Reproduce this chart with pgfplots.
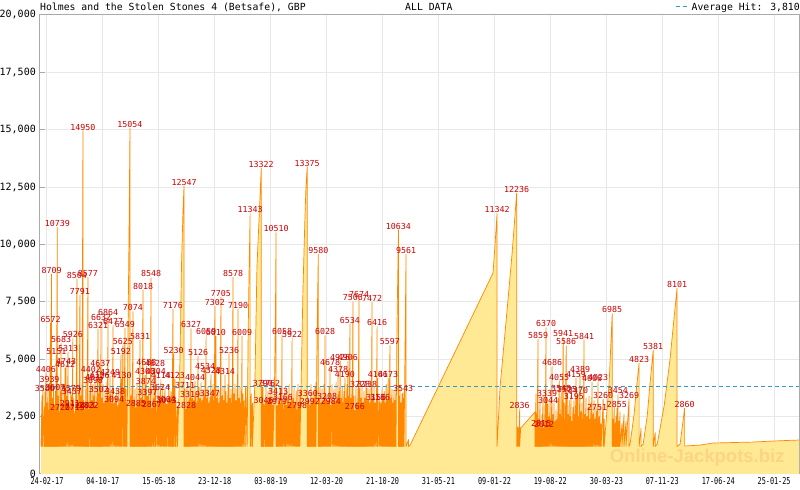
\documentclass[border=0pt]{standalone}
\usepackage{pgfplots}
\pgfplotsset{compat=1.18}
\usepackage{pgfplotstable}
\usepackage{fontspec}
\setmainfont{DejaVu Sans Mono}
\newfontfamily\monofont{DejaVu Sans Mono}
\newfontfamily\xmono[FakeStretch=0.72]{DejaVu Sans Mono}
\newfontfamily\wmfont{Liberation Sans}
\definecolor{jpyellow}{RGB}{255,233,148}
\definecolor{jporange}{RGB}{255,136,0}
\definecolor{labred}{RGB}{204,0,0}
\definecolor{gridgray}{RGB}{232,232,232}
\definecolor{axisgray}{RGB}{170,170,170}
\definecolor{avgblue}{RGB}{51,153,204}
\definecolor{wmark}{RGB}{253,213,128}

% jackpot level over time: x = days since 24-02-17, y = GBP
\pgfplotstableread[row sep=\\]{
d v\\
-24 1200\\
-20 3400\\ -20 1200\\ -16 3800\\ -16 1200\\ -10 2900\\ -10 1200\\ -8 3580\\ -8 1200\\
-4 4406\\ -4 1200\\ 0 3100\\ 0 1200\\ 4 3700\\ 4 1200\\ 8 2800\\ 8 1200\\
10 3939\\ 10 1200\\ 14 6572\\ 14 1200\\ 18 8709\\ 18 1200\\ 22 3300\\ 22 1200\\
26 3800\\ 26 1200\\ 30 3000\\ 30 1200\\ 33 3607\\ 33 1200\\ 37 5151\\ 37 1200\\
41 10739\\ 41 1200\\ 44 3400\\ 44 1200\\ 48 3900\\ 48 1200\\ 52 2720\\ 52 1200\\
56 5683\\ 56 1200\\ 60 3600\\ 60 1200\\ 64 3000\\ 64 1200\\ 68 3800\\ 68 1200\\
72 4612\\ 72 1200\\ 76 4743\\ 76 1200\\ 80 3400\\ 80 1200\\ 84 5313\\ 84 1200\\
88 3100\\ 88 1200\\ 91 2911\\ 91 1200\\ 95 3579\\ 95 1200\\ 99 3437\\ 99 1200\\
103 5926\\ 103 1200\\ 107 3300\\ 107 1200\\ 111 2715\\ 111 1200\\ 115 3800\\ 115 1200\\
119 8504\\ 119 1200\\ 123 3100\\ 123 1200\\ 127 3700\\ 127 1200\\ 131 7791\\ 131 1200\\
135 3400\\ 135 1200\\ 139 3900\\ 139 1200\\ 143 14950\\ 143 1200\\ 147 3200\\ 147 1200\\
151 2803\\ 151 1200\\ 155 4000\\ 155 1200\\ 159 3100\\ 159 1200\\ 163 8577\\ 163 1200\\
166 2822\\ 166 1200\\ 171 3800\\ 171 1200\\ 175 4402\\ 175 1200\\ 179 3200\\ 179 1200\\
183 3898\\ 183 1200\\ 187 3400\\ 187 1200\\ 191 4037\\ 191 1200\\ 195 3000\\ 195 1200\\
199 3800\\ 199 1200\\ 203 6321\\ 203 1200\\ 206 3502\\ 206 1200\\ 209 4126\\ 209 1200\\
212 4637\\ 212 1200\\ 215 6632\\ 215 1200\\ 219 3300\\ 219 1200\\ 223 3900\\ 223 1200\\
227 3100\\ 227 1200\\ 231 3600\\ 231 1200\\ 235 3200\\ 235 1200\\ 239 4000\\ 239 1200\\
243 6864\\ 243 1200\\ 247 3400\\ 247 1200\\ 251 4249\\ 251 1200\\ 255 3500\\ 255 1200\\
259 3100\\ 259 1200\\ 263 6477\\ 263 1200\\ 267 3094\\ 267 1200\\ 271 3438\\ 271 1200\\
274 3300\\ 274 1200\\ 278 3800\\ 278 1200\\ 282 3000\\ 282 1200\\ 286 3600\\ 286 1200\\
290 3200\\ 290 1200\\ 294 5192\\ 294 1200\\ 297 4130\\ 297 1200\\ 302 5625\\ 302 1200\\
306 3400\\ 306 1200\\ 310 6349\\ 310 1200\\ 314 3700\\ 314 1200\\ 318 3100\\ 318 1200\\
322 6000\\ 326 10100\\ 330 15054\\ 330 1200\\
334 3400\\ 334 1200\\ 338 3800\\ 338 1200\\ 342 7074\\ 342 1200\\ 346 3200\\ 346 1200\\
350 3700\\ 350 1200\\ 354 2885\\ 354 1200\\ 358 3900\\ 358 1200\\ 362 3100\\ 362 1200\\
366 3600\\ 366 1200\\ 370 5831\\ 370 1200\\ 374 3300\\ 374 1200\\ 378 3800\\ 378 1200\\
382 8018\\ 382 1200\\ 386 3200\\ 386 1200\\ 390 4300\\ 390 1200\\ 393 3874\\ 393 1200\\
395 4688\\ 395 1200\\ 399 3397\\ 399 1200\\ 402 3400\\ 402 1200\\ 406 3800\\ 406 1200\\
410 3200\\ 410 1200\\ 414 8548\\ 414 1200\\ 417 2867\\ 417 1200\\ 422 3700\\ 422 1200\\
426 3300\\ 426 1200\\ 430 4628\\ 430 1200\\ 433 4304\\ 433 1200\\ 438 3200\\ 438 1200\\
442 3800\\ 442 1200\\ 446 3100\\ 446 1200\\ 450 3624\\ 450 1200\\ 453 4114\\ 453 1200\\
457 3400\\ 457 1200\\ 461 3900\\ 461 1200\\ 465 3200\\ 465 1200\\ 469 3700\\ 469 1200\\
473 3064\\ 473 1200\\ 476 3043\\ 476 1200\\ 481 3300\\ 481 1200\\ 485 3900\\ 485 1200\\
489 3100\\ 489 1200\\ 493 3600\\ 493 1200\\ 497 3400\\ 497 1200\\ 501 7176\\ 501 1200\\
504 5230\\ 504 1200\\ 509 4123\\ 509 1200\\ 513 3200\\ 513 1200\\ 519 2900\\ 519 1200\\
529 5000\\ 535 9100\\ 541 11500\\ 545 12547\\ 545 1200\\
549 3711\\ 549 1200\\ 553 2828\\ 553 1200\\ 557 3800\\ 557 1200\\ 561 3100\\ 561 1200\\
565 3700\\ 565 1200\\ 569 3319\\ 569 1200\\ 573 6327\\ 573 1200\\ 577 3300\\ 577 1200\\
581 3900\\ 581 1200\\ 585 3200\\ 585 1200\\ 589 4044\\ 589 1200\\ 593 3500\\ 593 1200\\
597 3100\\ 597 1200\\ 601 5126\\ 601 1200\\ 605 3800\\ 605 1200\\ 609 3300\\ 609 1200\\
613 4000\\ 613 1200\\ 617 3200\\ 617 1200\\ 621 3700\\ 621 1200\\ 625 3400\\ 625 1200\\
629 4534\\ 629 1200\\ 633 6059\\ 633 1200\\ 636 3300\\ 636 1200\\ 640 3800\\ 640 1200\\
644 3100\\ 644 1200\\ 648 3347\\ 648 1200\\ 652 4328\\ 652 1200\\ 656 3400\\ 656 1200\\
660 3900\\ 660 1200\\ 664 3200\\ 664 1200\\ 668 7302\\ 668 1200\\ 672 6010\\ 672 1200\\
676 3300\\ 676 1200\\ 680 3800\\ 680 1200\\ 684 3100\\ 684 1200\\ 688 3600\\ 688 1200\\
692 7705\\ 692 1200\\ 696 3400\\ 696 1200\\ 700 3800\\ 700 1200\\ 704 3200\\ 704 1200\\
708 4314\\ 708 1200\\ 712 3600\\ 712 1200\\ 716 3100\\ 716 1200\\ 720 3900\\ 720 1200\\
724 5236\\ 724 1200\\ 728 3300\\ 728 1200\\ 732 3700\\ 732 1200\\ 736 3100\\ 736 1200\\
740 8578\\ 740 1200\\ 744 3500\\ 744 1200\\ 748 3900\\ 748 1200\\ 752 3200\\ 752 1200\\
756 3700\\ 756 1200\\ 760 7190\\ 760 1200\\ 764 3300\\ 764 1200\\ 768 3800\\ 768 1200\\
772 3100\\ 772 1200\\ 776 6009\\ 776 1200\\ 780 3500\\ 780 1200\\ 784 3200\\ 784 1200\\
790 3800\\ 790 1200\\ 796 3800\\ 796 1200\\
800 6000\\ 804 9000\\ 808 11343\\ 808 1200\\
812 3500\\ 812 1200\\ 817 3100\\ 817 1200\\
827 4000\\ 835 9000\\ 843 11000\\ 847 12000\\ 852 13322\\ 852 1200\\
855 3800\\ 855 1200\\ 859 3790\\ 859 1200\\ 862 3046\\ 862 1200\\ 867 3200\\ 867 1200\\
871 3800\\ 871 1200\\ 875 3100\\ 875 1200\\ 879 3600\\ 879 1200\\ 883 3300\\ 883 1200\\
887 3762\\ 887 1200\\ 891 3200\\ 891 1200\\ 895 3800\\ 895 1200\\ 899 3000\\ 899 1200\\
905 4000\\ 909 7500\\ 911 10510\\ 911 1200\\
915 2979\\ 915 1200\\ 919 3413\\ 919 1200\\ 923 3200\\ 923 1200\\ 927 3800\\ 927 1200\\
931 3100\\ 931 1200\\ 935 6058\\ 935 1200\\ 938 3166\\ 938 1200\\ 943 3200\\ 943 1200\\
947 3800\\ 947 1200\\ 951 3000\\ 951 1200\\ 955 3600\\ 955 1200\\ 959 3300\\ 959 1200\\
963 3900\\ 963 1200\\ 967 3100\\ 967 1200\\ 971 3500\\ 971 1200\\ 975 5922\\ 975 1200\\
979 3300\\ 979 1200\\ 983 3800\\ 983 1200\\ 987 3100\\ 987 1200\\ 991 3600\\ 991 1200\\
995 2798\\ 995 1200\\ 998 3900\\ 998 1200\\ 1002 3100\\ 1002 1200\\ 1006 3600\\ 1006 1200\\
1018 8000\\ 1026 11200\\ 1030 12500\\ 1035 13375\\ 1035 1200\\
1038 3360\\ 1038 1200\\ 1042 3200\\ 1042 1200\\ 1046 2992\\ 1046 1200\\ 1050 3900\\ 1050 1200\\
1054 3100\\ 1054 1200\\ 1058 3600\\ 1058 1200\\ 1062 3300\\ 1062 1200\\ 1066 3800\\ 1066 1200\\
1070 4000\\ 1070 1200\\ 1074 6000\\ 1079 9580\\ 1079 1200\\
1082 3300\\ 1082 1200\\ 1086 3800\\ 1086 1200\\ 1090 3100\\ 1090 1200\\ 1094 3700\\ 1094 1200\\
1098 3200\\ 1098 1200\\ 1102 3900\\ 1102 1200\\ 1106 6028\\ 1106 1200\\ 1110 3400\\ 1110 1200\\
1114 3208\\ 1114 1200\\ 1118 3200\\ 1118 1200\\ 1122 3800\\ 1122 1200\\ 1126 4678\\ 1126 1200\\
1129 2984\\ 1129 1200\\ 1134 3900\\ 1134 1200\\ 1138 3200\\ 1138 1200\\ 1142 3700\\ 1142 1200\\
1146 3100\\ 1146 1200\\ 1150 4000\\ 1150 1200\\ 1154 3300\\ 1154 1200\\ 1158 4378\\ 1158 1200\\
1162 3600\\ 1162 1200\\ 1166 4926\\ 1166 1200\\ 1170 3300\\ 1170 1200\\ 1174 3800\\ 1174 1200\\
1177 3100\\ 1177 1200\\ 1181 3600\\ 1181 1200\\ 1185 4190\\ 1185 1200\\ 1189 3300\\ 1189 1200\\
1193 3900\\ 1193 1200\\ 1197 4906\\ 1197 1200\\ 1201 3400\\ 1201 1200\\ 1205 6534\\ 1205 1200\\
1209 3300\\ 1209 1200\\ 1213 3800\\ 1213 1200\\ 1217 7506\\ 1217 1200\\ 1221 3400\\ 1221 1200\\
1225 2766\\ 1225 1200\\ 1229 3800\\ 1229 1200\\ 1233 3100\\ 1233 1200\\ 1237 3700\\ 1237 1200\\
1241 7674\\ 1241 1200\\ 1245 3728\\ 1245 1200\\ 1249 3300\\ 1249 1200\\ 1253 3800\\ 1253 1200\\
1257 3100\\ 1257 1200\\ 1261 3600\\ 1261 1200\\ 1265 3300\\ 1265 1200\\ 1269 3900\\ 1269 1200\\
1273 3738\\ 1273 1200\\ 1277 3200\\ 1277 1200\\ 1281 3700\\ 1281 1200\\ 1285 3100\\ 1285 1200\\
1289 3800\\ 1289 1200\\ 1293 7472\\ 1293 1200\\ 1297 3300\\ 1297 1200\\ 1301 3800\\ 1301 1200\\
1305 3100\\ 1305 1200\\ 1309 3156\\ 1309 1200\\ 1313 6416\\ 1313 1200\\ 1316 4166\\ 1316 1200\\
1321 3200\\ 1321 1200\\ 1325 3186\\ 1325 1200\\ 1329 3100\\ 1329 1200\\ 1333 3800\\ 1333 1200\\
1337 3300\\ 1337 1200\\ 1341 3600\\ 1341 1200\\ 1345 3100\\ 1345 1200\\ 1349 3900\\ 1349 1200\\
1353 3200\\ 1353 1200\\ 1357 4173\\ 1357 1200\\ 1360 3500\\ 1360 1200\\ 1364 5597\\ 1364 1200\\
1368 3300\\ 1368 1200\\ 1372 3700\\ 1372 1200\\ 1376 3100\\ 1376 1200\\ 1380 3600\\ 1380 1200\\
1384 3200\\ 1384 1200\\ 1388 3800\\ 1388 1200\\ 1392 6500\\ 1398 10634\\ 1398 1200\\
1400 3400\\ 1400 1200\\ 1404 3800\\ 1404 1200\\ 1408 3100\\ 1408 1200\\ 1412 3500\\ 1412 1200\\
1416 3543\\ 1416 1200\\ 1420 3300\\ 1420 1200\\ 1424 5500\\ 1428 9561\\ 1428 1200\\
1438 1500\\ 1438 1200\\ 1444 1250\\
1774 8760\\ 1782 10000\\ 1790 11342\\ 1790 1200\\
1802 3800\\ 1830 7150\\ 1850 9630\\ 1868 12236\\ 1868 1200\\
1872 2050\\ 1872 1200\\ 1876 2000\\ 1876 1200\\ 1880 2836\\ 1880 1200\\
1884 2000\\ 1941 2700\\ 1941 1200\\
1945 3500\\ 1945 1200\\ 1949 2600\\ 1949 1200\\ 1953 5859\\ 1953 1200\\ 1957 2400\\ 1957 1200\\
1961 3200\\ 1961 1200\\ 1965 2015\\ 1965 1200\\ 1969 2600\\ 1969 1200\\ 1973 3400\\ 1973 1200\\
1977 2012\\ 1977 1200\\ 1981 3000\\ 1981 1200\\ 1985 6370\\ 1985 1200\\ 1989 3339\\ 1989 1200\\
1993 3044\\ 1993 1200\\ 1997 2500\\ 1997 1200\\ 2001 3200\\ 2001 1200\\ 2005 2400\\ 2005 1200\\
2009 4686\\ 2009 1200\\ 2013 2600\\ 2013 1200\\ 2017 3100\\ 2017 1200\\ 2021 2300\\ 2021 1200\\
2025 2800\\ 2025 1200\\ 2029 2400\\ 2029 1200\\ 2033 3300\\ 2033 1200\\ 2037 4055\\ 2037 1200\\
2041 2600\\ 2041 1200\\ 2045 3548\\ 2045 1200\\ 2049 2500\\ 2049 1200\\ 2053 5941\\ 2053 1200\\
2057 3100\\ 2057 1200\\ 2061 2400\\ 2061 1200\\ 2065 5586\\ 2065 1200\\ 2069 3525\\ 2069 1200\\
2073 2600\\ 2073 1200\\ 2077 3200\\ 2077 1200\\ 2081 2500\\ 2081 1200\\ 2084 3400\\ 2084 1200\\
2088 2300\\ 2088 1200\\ 2092 2900\\ 2092 1200\\ 2096 3195\\ 2096 1200\\ 2100 2600\\ 2100 1200\\
2104 4159\\ 2104 1200\\ 2108 3400\\ 2108 1200\\ 2112 3470\\ 2112 1200\\ 2116 2500\\ 2116 1200\\
2120 4389\\ 2120 1200\\ 2124 2700\\ 2124 1200\\ 2128 3100\\ 2128 1200\\ 2132 2400\\ 2132 1200\\
2136 5841\\ 2136 1200\\ 2140 2600\\ 2140 1200\\ 2144 3300\\ 2144 1200\\ 2148 2500\\ 2148 1200\\
2152 2900\\ 2152 1200\\ 2156 3400\\ 2156 1200\\ 2160 2400\\ 2160 1200\\ 2164 3100\\ 2164 1200\\
2168 4006\\ 2168 1200\\ 2172 2600\\ 2172 1200\\ 2176 3200\\ 2176 1200\\ 2180 2400\\ 2180 1200\\
2184 2900\\ 2184 1200\\ 2188 2751\\ 2188 1200\\ 2192 4023\\ 2192 1200\\ 2196 2500\\ 2196 1200\\
2200 3000\\ 2200 1200\\ 2204 2200\\ 2204 1200\\ 2212 3260\\ 2212 1200\\ 2216 2400\\ 2216 1200\\
2236 4000\\ 2244 6000\\ 2248 6985\\ 2248 1200\\
2252 2400\\ 2252 1200\\ 2256 2900\\ 2256 1200\\ 2260 2200\\ 2260 1200\\ 2263 2500\\ 2263 1200\\
2267 2855\\ 2267 1200\\ 2271 3454\\ 2271 1200\\ 2275 2300\\ 2275 1200\\ 2279 2700\\ 2279 1200\\
2287 2200\\ 2287 1200\\ 2295 2600\\ 2295 1200\\ 2303 2300\\ 2303 1200\\ 2315 3269\\ 2315 1200\\
2319 1300\\ 2335 2600\\ 2347 4000\\ 2355 4823\\ 2355 1200\\ 2363 2000\\ 2363 1200\\
2371 1300\\ 2387 2500\\ 2399 4000\\ 2411 5381\\ 2411 1200\\ 2419 1800\\ 2419 1200\\
2427 1300\\ 2455 3000\\ 2478 5000\\ 2494 6800\\ 2506 8101\\ 2506 1200\\
2518 1300\\ 2526 2000\\ 2536 2860\\ 2536 1220\\
2598 1260\\ 2649 1350\\ 2804 1390\\ 2896 1440\\ 2991 1480\\
}\jpdata

% labelled hits
\pgfplotstableread[row sep=\\]{
d v\\
-8 3580\\ -4 4406\\ 10 3939\\ 14 6572\\ 18 8709\\ 33 3607\\ 37 5151\\ 41 10739\\ 52 2720\\
56 5683\\ 72 4612\\ 76 4743\\ 84 5313\\ 91 2911\\ 95 3579\\ 99 3437\\ 103 5926\\ 111 2715\\
119 8504\\ 131 7791\\ 143 14950\\ 151 2803\\ 163 8577\\ 166 2822\\ 175 4402\\ 183 3898\\
191 4037\\ 203 6321\\ 206 3502\\ 209 4126\\ 212 4637\\ 215 6632\\ 243 6864\\ 251 4249\\
263 6477\\ 267 3094\\ 271 3438\\ 294 5192\\ 297 4130\\ 302 5625\\ 310 6349\\ 330 15054\\
342 7074\\ 354 2885\\ 370 5831\\ 382 8018\\ 390 4300\\ 393 3874\\ 395 4688\\ 399 3397\\
414 8548\\ 417 2867\\ 430 4628\\ 433 4304\\ 450 3624\\ 453 4114\\ 473 3064\\ 476 3043\\
501 7176\\ 504 5230\\ 509 4123\\ 545 12547\\ 549 3711\\ 553 2828\\ 569 3319\\ 573 6327\\
589 4044\\ 601 5126\\ 629 4534\\ 633 6059\\ 648 3347\\ 652 4328\\ 668 7302\\ 672 6010\\
692 7705\\ 708 4314\\ 724 5236\\ 740 8578\\ 760 7190\\ 776 6009\\ 808 11343\\ 852 13322\\
859 3790\\ 862 3046\\ 887 3762\\ 911 10510\\ 915 2979\\ 919 3413\\ 935 6058\\ 938 3166\\
975 5922\\ 995 2798\\ 1035 13375\\ 1038 3360\\ 1046 2992\\ 1079 9580\\ 1106 6028\\
1114 3208\\ 1126 4678\\ 1129 2984\\ 1158 4378\\ 1166 4926\\ 1185 4190\\ 1197 4906\\
1205 6534\\ 1217 7506\\ 1225 2766\\ 1241 7674\\ 1245 3728\\ 1273 3738\\ 1293 7472\\
1309 3156\\ 1313 6416\\ 1316 4166\\ 1325 3186\\ 1357 4173\\ 1364 5597\\ 1398 10634\\
1416 3543\\ 1428 9561\\ 1790 11342\\ 1868 12236\\ 1880 2836\\ 1953 5859\\ 1965 2015\\
1977 2012\\ 1985 6370\\ 1989 3339\\ 1993 3044\\ 2009 4686\\ 2037 4055\\ 2045 3548\\
2053 5941\\ 2065 5586\\ 2069 3525\\ 2096 3195\\ 2104 4159\\ 2112 3470\\ 2120 4389\\
2136 5841\\ 2168 4006\\ 2188 2751\\ 2192 4023\\ 2212 3260\\ 2248 6985\\ 2267 2855\\
2271 3454\\ 2315 3269\\ 2355 4823\\ 2411 5381\\ 2506 8101\\ 2536 2860\\
}\jplabels

\begin{document}
\begin{tikzpicture}[x=1bp,y=1bp]
\begin{axis}[
  scale only axis, width=759bp, height=459bp,
  xmin=-27.8, xmax=2991, ymin=0, ymax=20000,
  axis line style={axisgray, line width=1bp},
  tick style={axisgray, line width=1bp},
  tick align=inside,
  xtick pos=bottom, ytick pos=left,
  major tick length=5bp, minor tick length=4bp,
  xtick={0,222,445,667,890,1112,1335,1557,1780,2002,2225,2447,2670,2892},
  xticklabels={24-02-17,04-10-17,15-05-18,23-12-18,03-08-19,12-03-20,21-10-20,31-05-21,09-01-22,19-08-22,30-03-23,07-11-23,17-06-24,25-01-25},
  minor x tick num=4,
  ytick={0,2500,5000,7500,10000,12500,15000,17500,20000},
  scaled y ticks=false,
  /pgf/number format/assume math mode=true,
  /pgf/number format/fixed,
  /pgf/number format/1000 sep={,},
  yticklabel style={font=\monofont\fontsize{10bp}{12bp}\selectfont, anchor=east, inner sep=0pt, xshift=-4bp},
  xticklabel style={font=\xmono\fontsize{9.5bp}{11bp}\selectfont, anchor=north, inner sep=0pt, yshift=-3bp},
  grid=major, major grid style={gridgray, line width=1bp},
]
\coordinate (bl) at (rel axis cs:0,0);
\addplot[draw=none, fill=jpyellow, mark=none] table[x=d,y=v]{\jpdata} \closedcycle;
\node[anchor=base, inner sep=0pt, text=wmark, font=\wmfont\bfseries\fontsize{18.5bp}{20bp}\selectfont] at (axis cs:2586,480) {Online-Jackpots.biz};
\addplot[jporange, line width=0.7bp, line join=round, mark=none] table[x=d,y=v]{\jpdata};
\addplot[avgblue, line width=1bp, dash pattern=on 4bp off 3bp, mark=none] coordinates {(-27.8,3810) (2991,3810)};
\addplot[only marks, mark=*, mark size=0pt, mark options={draw=none, fill=none},
  nodes near coords, point meta=explicit symbolic,
  every node near coord/.style={font=\monofont\fontsize{8.3bp}{9bp}\selectfont, text=labred, anchor=south, inner sep=0.5bp}]
  table[x=d,y=v,meta=v]{\jplabels};
\end{axis}
\node[anchor=base west, inner sep=0pt, font=\monofont\fontsize{9.8bp}{11bp}\selectfont] at ([shift={(0,463)}]bl) {Holmes and the Stolen Stones 4 (Betsafe), GBP};
\node[anchor=base west, inner sep=0pt, font=\monofont\fontsize{9.8bp}{11bp}\selectfont] at ([shift={(365,463)}]bl) {ALL DATA};
\node[anchor=base east, inner sep=0pt, font=\monofont\fontsize{9.8bp}{11bp}\selectfont] at ([shift={(760,463)}]bl) {Average Hit: 3,810};
\draw[avgblue, line width=1bp, dash pattern=on 4bp off 3bp] ([shift={(636,467)}]bl) -- ([shift={(650,467)}]bl);
\pgfresetboundingbox
\path ([shift={(-40,-16)}]bl) rectangle ([shift={(760,474)}]bl);
\end{tikzpicture}
\end{document}
